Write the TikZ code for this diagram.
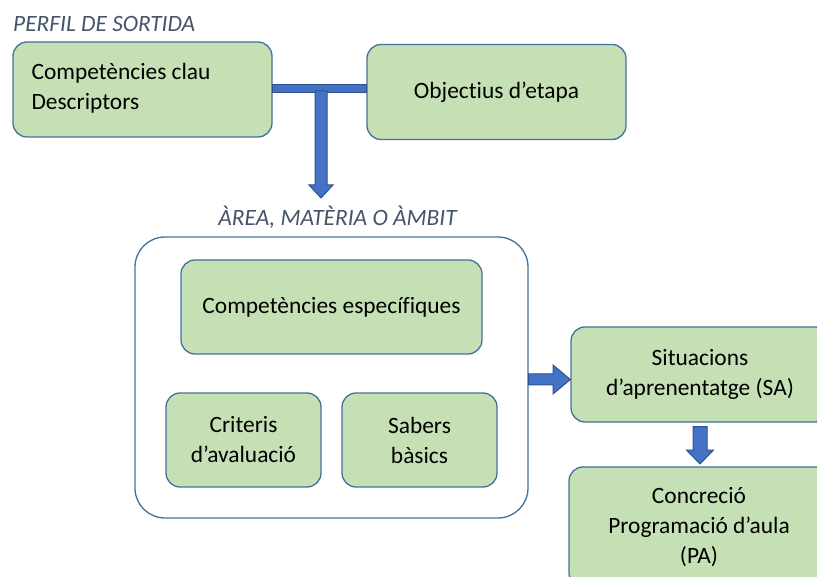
\documentclass[tikz,border=0pt]{standalone}
\usepackage{fontspec}
\setmainfont{Carlito}[Ligatures=NoCommon]
\usetikzlibrary{calc}
\definecolor{boxg}{HTML}{C5E0B4}
\definecolor{bordc}{HTML}{41719C}
\definecolor{arrowc}{HTML}{4472C4}
\definecolor{arrowb}{HTML}{2F528F}
\definecolor{headc}{HTML}{44546A}
\begin{document}
\begin{tikzpicture}[x=1pt,y=-1pt,
  box/.style={draw=bordc, fill=boxg, line width=1.3pt, rounded corners=14pt,
    minimum width=259pt, minimum height=95pt, align=center, inner sep=0pt,
    font=\fontsize{23.4}{30}\selectfont},
  head/.style={font=\fontsize{23.4}{30}\selectfont\itshape, text=headc, inner sep=0pt},
  barrow/.style={fill=arrowc, draw=arrowb, line width=1pt, line join=miter}]
\useasboundingbox (0,0) rectangle (817,577);
\clip (0,0) rectangle (817,577);

\node[head, anchor=base west] (perfil) at (13,32) {PERFIL DE SORTIDA};
\node[box] (cc) at (142.5,89.5) {};
\node[anchor=west, align=left, inner sep=0pt, font=\fontsize{23.4}{30}\selectfont] (cctext)
  at ($(cc.west)+(19,-1)$) {Competències clau\\Descriptors};
\node[box] (oe) at (496.5,92) {Objectius d’etapa};

% T connector
\draw[barrow] (cc.east |- 0,85) rectangle (oe.west |- 0,93);
\coordinate (tj) at (321,91);
\node[head, anchor=base] (area) at (337.5,226) {ÀREA, MATÈRIA O ÀMBIT};
\draw[barrow] ($(tj)+(-6,0)$) -- ($(tj)+(6,0)$) -- ($(tj)+(6,94)$) -- ($(tj)+(12,94)$)
  -- ($(tj)+(0,107)$) -- ($(tj)+(-12,94)$) -- ($(tj)+(-6,94)$) -- cycle;

% outer area box
\node[draw=bordc, line width=1.3pt, rounded corners=30pt, minimum width=393pt,
  minimum height=281pt, inner sep=0pt] (outer) at (331.5,377.5) {};
\node[box, minimum width=301pt, minimum height=94pt] (ce) at (331.5,307) {Competències específiques};
\node[box, minimum width=155pt, minimum height=94pt] (cr) at (243.5,440) {Criteris\\d’avaluació};
\node[box, minimum width=155pt, minimum height=94pt] (sb) at (419.5,440) {Sabers\\bàsics};

\node[box, minimum width=258pt, minimum height=95pt] (sa) at (700,374.5) {Situacions\\d’aprenentatge (SA)};
\node[box, minimum width=260pt, minimum height=120pt] (pa) at (699,527) {Concreció\\Programació d’aula\\(PA)};

% right arrow
\draw[barrow] (outer.east |- 0,374) -- (553,374) -- (553,365) -- (sa.west |- 0,379.5)
  -- (553,394) -- (553,385) -- (outer.east |- 0,385) -- cycle;
% down arrow
\draw[barrow] (693,426.5) -- (707,426.5) -- (707,450) -- (713.5,450) -- (700,464)
  -- (686.5,450) -- (693,450) -- cycle;
\end{tikzpicture}
\end{document}
